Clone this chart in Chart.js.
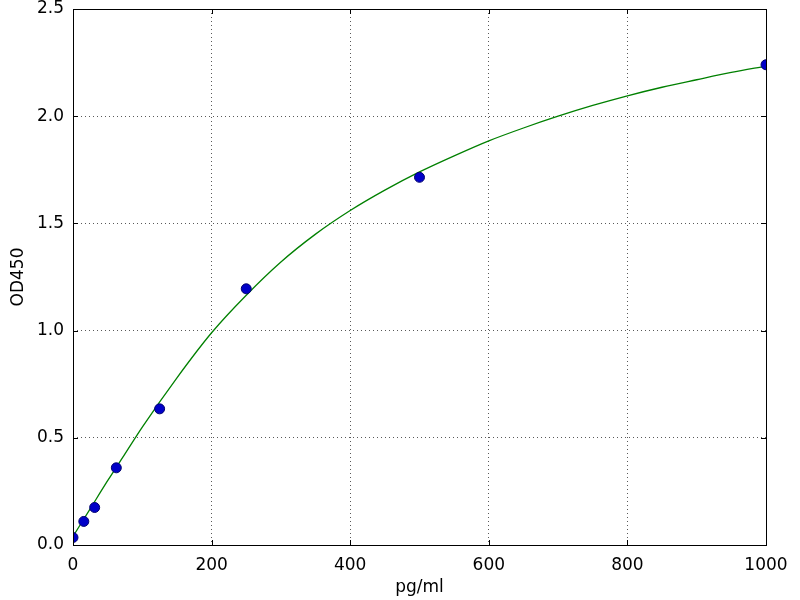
<!DOCTYPE html>
<html>
<head>
<meta charset="utf-8">
<script src="https://cdn.jsdelivr.net/npm/chart.js@4"></script>
<style>
  html, body { margin: 0; padding: 0; background: #fff; }
  #wrap { width: 800px; height: 600px; }
</style>
</head>
<body>
<div id="wrap"><canvas id="chart" width="800" height="600"></canvas></div>
<script>
// standard points (pg/ml vs OD450)
const concentrations = [0, 15.6, 31.25, 62.5, 125, 250, 500, 1000];
const odValues = [0.035, 0.11, 0.175, 0.36, 0.635, 1.195, 1.715, 2.24];

// fitted curve
const curveX = [0, 25, 50, 75, 100, 150, 200, 250, 300, 350, 400, 450, 500, 550, 600, 650, 700, 750, 800, 850, 900, 950, 1000];
const curveY = [0.04, 0.17, 0.30, 0.425, 0.55, 0.78, 0.99, 1.165, 1.32, 1.45, 1.56, 1.655, 1.74, 1.815, 1.885, 1.945, 2.0, 2.05, 2.095, 2.135, 2.17, 2.204, 2.234];

const xTicks = [0, 200, 400, 600, 800, 1000];
const yTicks = [0, 0.5, 1.0, 1.5, 2.0, 2.5];

const font = { family: 'DejaVu Sans', size: 17 };

// box around plot + inward tick marks like matplotlib
const frame = {
  id: 'frame',
  afterDraw(chart) {
    const { ctx, chartArea: a, scales } = chart;
    ctx.save();
    ctx.strokeStyle = '#000';
    ctx.lineWidth = 1;
    ctx.beginPath();
    xTicks.forEach(v => {
      const px = Math.round(scales.x.getPixelForValue(v)) + 0.5;
      ctx.moveTo(px, a.bottom); ctx.lineTo(px, a.bottom - 5);
      ctx.moveTo(px, a.top); ctx.lineTo(px, a.top + 5);
    });
    yTicks.forEach(v => {
      const py = Math.round(scales.y.getPixelForValue(v)) + 0.5;
      ctx.moveTo(a.left, py); ctx.lineTo(a.left + 5, py);
      ctx.moveTo(a.right, py); ctx.lineTo(a.right - 5, py);
    });
    ctx.stroke();
    ctx.strokeRect(Math.round(a.left) + 0.5, Math.round(a.top) + 0.5, Math.round(a.right - a.left), Math.round(a.bottom - a.top));
    ctx.restore();
  }
};

new Chart(document.getElementById('chart'), {
  type: 'scatter',
  data: {
    datasets: [
      {
        label: 'fit',
        data: curveX.map((x, i) => ({ x: x, y: curveY[i] })),
        showLine: true,
        borderColor: '#008000',
        borderWidth: 1.3,
        pointRadius: 0,
        cubicInterpolationMode: 'monotone',
        clip: 0,
        order: 2
      },
      {
        label: 'std',
        data: concentrations.map((x, i) => ({ x: x, y: odValues[i] })),
        backgroundColor: '#0000c8',
        borderColor: '#000070',
        borderWidth: 1,
        pointRadius: 5,
        clip: 0,
        order: 1
      }
    ]
  },
  options: {
    responsive: false,
    animation: false,
    layout: { padding: { top: 9, right: 34, left: 0, bottom: 0 } },
    plugins: { legend: { display: false }, tooltip: { enabled: false } },
    scales: {
      x: {
        type: 'linear',
        min: 0,
        max: 1000,
        afterFit: s => { s.height = 55; s.paddingLeft = 0; s.paddingRight = 0; },
        afterBuildTicks: s => { s.ticks = xTicks.map(v => ({ value: v })); },
        ticks: { color: '#000', font: font, padding: 10, maxRotation: 0, callback: v => String(v) },
        grid: { color: 'rgba(0,0,0,0.65)', lineWidth: 1, drawTicks: false },
        border: { display: false, dash: [1, 3] },
        title: { display: true, text: 'pg/ml', color: '#000', font: font, padding: { top: 0, bottom: 2 } }
      },
      y: {
        type: 'linear',
        min: 0,
        max: 2.5,
        afterFit: s => { s.width = 73; s.paddingTop = 0; s.paddingBottom = 0; },
        afterBuildTicks: s => { s.ticks = yTicks.map(v => ({ value: v })); },
        ticks: { color: '#000', font: font, padding: 9, callback: v => v.toFixed(1) },
        grid: { color: 'rgba(0,0,0,0.65)', lineWidth: 1, drawTicks: false },
        border: { display: false, dash: [1, 3] },
        title: { display: true, text: 'OD450', color: '#000', font: font, padding: { top: 8, bottom: 0 } }
      }
    }
  },
  plugins: [frame]
});
</script>
</body>
</html>
